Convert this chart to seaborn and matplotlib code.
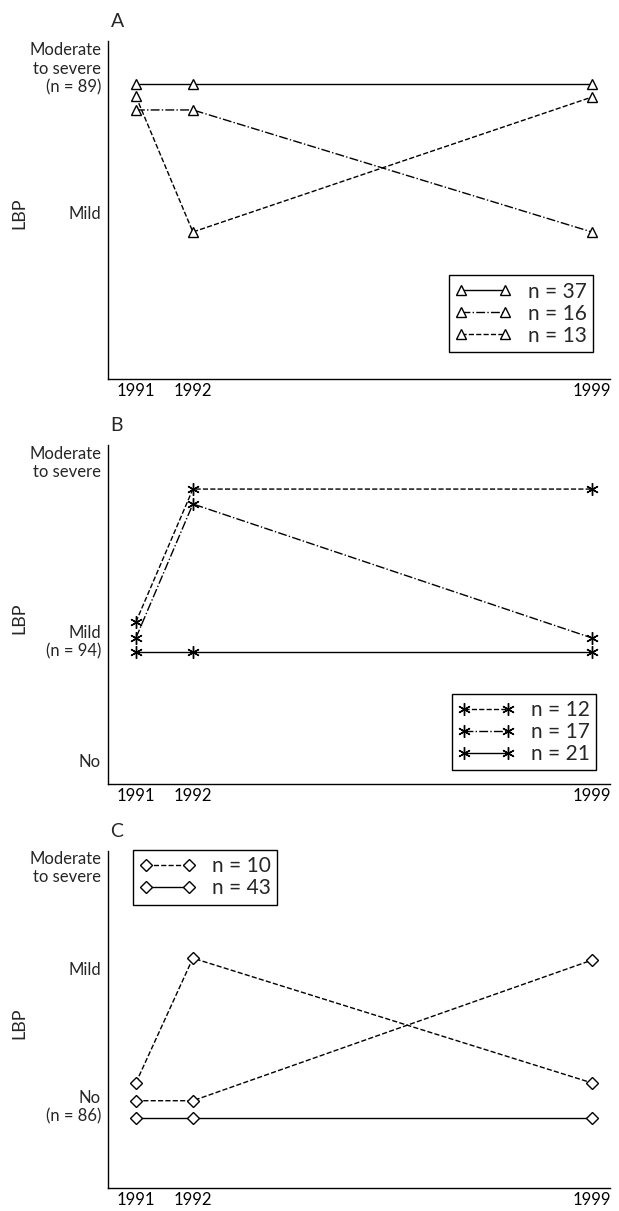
import matplotlib
matplotlib.use('Agg')
import matplotlib.pyplot as plt
import seaborn as sns

sns.set_style('white')
plt.rcParams['font.family'] = ['Lato', 'DejaVu Sans']

years = [1991, 1992, 1999]

# panel A (heights on a 0-100 scale of the y axis)
a_n37 = [87.3, 87.3, 87.3]
a_n16 = [79.6, 79.6, 43.5]
a_n13 = [83.6, 43.5, 83.4]
a_ticks = [91.7, 48.7]
a_ticklabels = ['Moderate\nto severe\n(n = 89)', 'Mild']

# panel B
b_n12 = [47.8, 87.0, 87.0]
b_n17 = [43.1, 82.6, 43.1]
b_n21 = [38.9, 38.9, 38.9]
b_ticks = [94.7, 41.9, 6.5]
b_ticklabels = ['Moderate\nto severe', 'Mild\n(n = 94)', 'No']

# panel C
c_n10a = [31.2, 68.2, 31.2]
c_n10b = [25.9, 25.9, 67.6]
c_n43 = [20.7, 20.7, 20.7]
c_ticks = [95.0, 64.8, 24.0]
c_ticklabels = ['Moderate\nto severe', 'Mild', 'No\n(n = 86)']

fig = plt.figure(figsize=(6.19, 12.11), dpi=100)
W, H = 619, 1211
left, right = 108, 610
boxes = [(41, 379), (445, 784), (851, 1188)]
axes = []
for top, bot in boxes:
    ax = fig.add_axes([left / W, 1 - bot / H, (right - left) / W, (bot - top) / H])
    axes.append(ax)


def draw(ax, y, ls, marker, ms):
    sns.lineplot(x=years, y=y, ax=ax, color='black', linestyle=ls, lw=1,
                 marker=marker, markersize=ms, markerfacecolor='white',
                 markeredgecolor='black', markeredgewidth=1, legend=False)
    return ax.get_lines()[-1]


def style(ax, title, ticks, labels):
    ax.set_xlim(1990.51, 1999.32)
    ax.set_ylim(0, 100)
    sns.despine(ax=ax)
    for s in ['left', 'bottom']:
        ax.spines[s].set_color('black')
        ax.spines[s].set_linewidth(1)
    ax.set_xticks(years)
    ax.set_xticklabels([str(y) for y in years], fontsize=12)
    ax.tick_params(axis='x', direction='in', length=10, width=1, pad=3, colors='black')
    ax.set_yticks(ticks)
    ax.set_yticklabels(labels, fontsize=12, va='center', ha='right', multialignment='right')
    ax.tick_params(axis='y', length=0, pad=5)
    ax.set_xlabel('')
    ax.set_ylabel('LBP', fontsize=13)
    ax.yaxis.set_label_coords(-0.16, 0.49)
    ax.set_title(title, loc='left', fontsize=14, pad=10, x=0.005)


leg_kw = dict(fontsize=15, numpoints=2, handlelength=2.7, handletextpad=0.8,
              labelspacing=0.1, borderpad=0.3, borderaxespad=0, fancybox=False,
              edgecolor='black', framealpha=1)

# A
ax = axes[0]
l1 = draw(ax, a_n37, '-', '^', 7.5)
l2 = draw(ax, a_n16, '-.', '^', 7.5)
l3 = draw(ax, a_n13, '--', '^', 7.5)
style(ax, 'A', a_ticks, a_ticklabels)
leg = ax.legend([l1, l2, l3], ['n = 37', 'n = 16', 'n = 13'], loc='lower right',
                bbox_to_anchor=(0.966, 0.08), **leg_kw)
leg.get_frame().set_linewidth(1)

# B
ax = axes[1]
l1 = draw(ax, b_n12, '--', (6, 2, 0), 9)
l2 = draw(ax, b_n17, '-.', (6, 2, 0), 9)
l3 = draw(ax, b_n21, '-', (6, 2, 0), 9)
style(ax, 'B', b_ticks, b_ticklabels)
leg = ax.legend([l1, l2, l3], ['n = 12', 'n = 17', 'n = 21'], loc='lower right',
                bbox_to_anchor=(0.972, 0.04), **leg_kw)
leg.get_frame().set_linewidth(1)

# C
ax = axes[2]
l1 = draw(ax, c_n10a, '--', 'D', 6)
draw(ax, c_n10b, '--', 'D', 6)
l3 = draw(ax, c_n43, '-', 'D', 6)
style(ax, 'C', c_ticks, c_ticklabels)
leg = ax.legend([l1, l3], ['n = 10', 'n = 43'], loc='upper left',
                bbox_to_anchor=(0.05, 1.003), **leg_kw)
leg.get_frame().set_linewidth(1)

fig.savefig('out.png', dpi=100)
